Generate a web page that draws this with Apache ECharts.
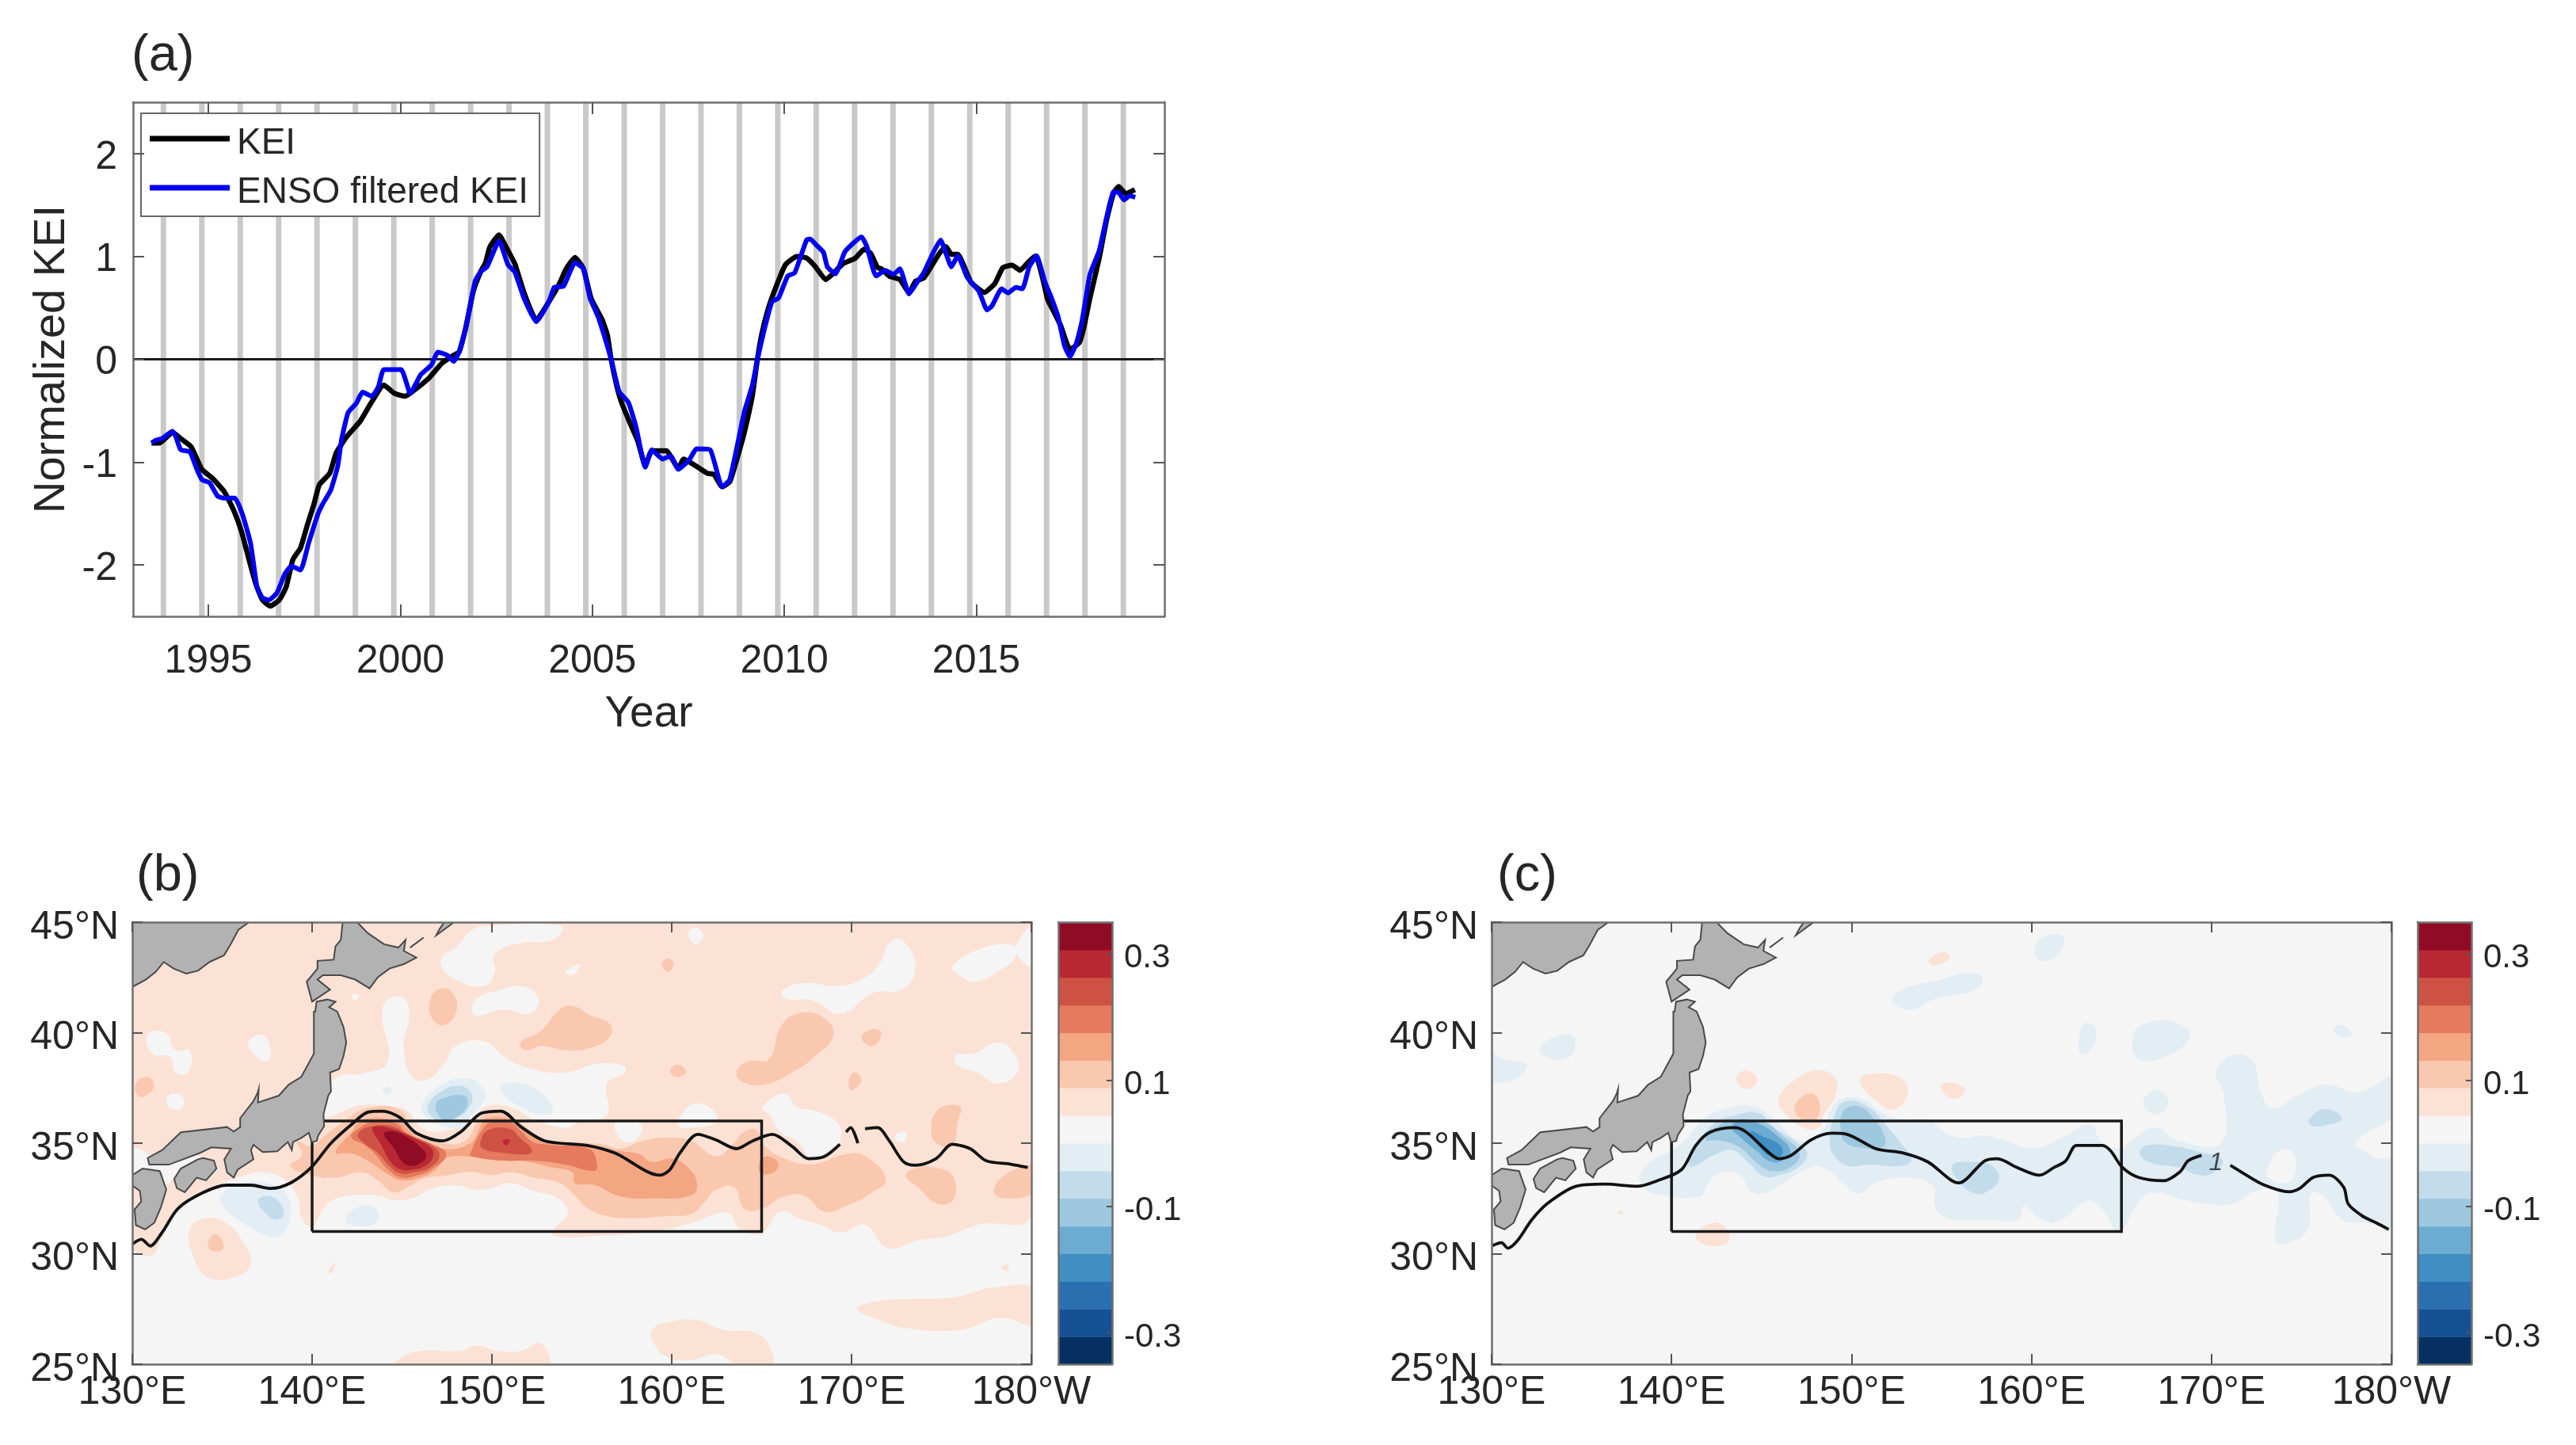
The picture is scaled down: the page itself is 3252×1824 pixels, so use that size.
<!DOCTYPE html>
<html><head><meta charset="utf-8">
<style>html,body{margin:0;padding:0;background:#fff}#c{width:3252px;height:1824px}</style>
<script src="https://cdn.jsdelivr.net/npm/echarts@6/dist/echarts.min.js"></script>
</head><body><div id="c"></div>
<script>
// ---------- panel (a) ----------
const keiYears=[1993.52,1993.73,1994.07,1994.28,1994.55,1994.83,1995.1,1995.41,1995.65,1995.86,1996.06,1996.24,1996.41,1996.61,1996.85,1997.03,1997.2,1997.4,1997.58,1997.75,1997.89,1998.16,1998.33,1998.61,1998.95,1999.23,1999.57,1999.84,2000.12,2000.33,2000.74,2001.08,2001.39,2001.53,2001.7,2001.9,2002.09,2002.22,2002.33,2002.57,2002.77,2002.98,2003.22,2003.54,2003.87,2004.15,2004.32,2004.55,2004.77,2004.97,2005.25,2005.39,2005.49,2005.63,2005.76,2005.97,2006.18,2006.38,2006.55,2006.76,2006.93,2007.24,2007.38,2007.79,2008.0,2008.17,2008.38,2008.58,2008.75,2008.96,2009.17,2009.3,2009.41,2009.58,2009.78,2010.03,2010.33,2010.58,2010.81,2011.08,2011.29,2011.53,2011.84,2012.08,2012.25,2012.43,2012.53,2012.73,2013.01,2013.25,2013.42,2013.63,2014.04,2014.21,2014.35,2014.52,2014.86,2015.21,2015.48,2015.69,2015.93,2016.14,2016.38,2016.55,2016.72,2016.86,2017.03,2017.2,2017.44,2017.68,2017.79,2017.96,2018.2,2018.4,2018.58,2018.71,2018.89,2019.13];
const keiValues=[-0.815,-0.815,-0.71,-0.77,-0.85,-1.07,-1.155,-1.285,-1.46,-1.67,-1.95,-2.19,-2.34,-2.40,-2.34,-2.21,-1.95,-1.835,-1.61,-1.41,-1.22,-1.11,-0.91,-0.75,-0.605,-0.43,-0.25,-0.33,-0.36,-0.31,-0.185,-0.04,0.04,0.07,0.30,0.66,0.85,0.94,1.09,1.21,1.08,0.93,0.65,0.38,0.56,0.74,0.88,0.99,0.88,0.59,0.39,0.24,0,-0.25,-0.42,-0.61,-0.79,-1.03,-0.89,-0.89,-0.89,-1.06,-0.97,-1.06,-1.11,-1.12,-1.24,-1.19,-0.99,-0.71,-0.35,0,0.24,0.49,0.70,0.92,1.0,0.985,0.90,0.775,0.84,0.93,0.98,1.07,1.03,0.89,0.88,0.81,0.775,0.65,0.76,0.79,1.03,1.095,1.02,1.02,0.75,0.65,0.735,0.89,0.915,0.865,0.955,1.005,0.80,0.58,0.455,0.325,0.095,0.16,0.29,0.595,0.98,1.365,1.62,1.68,1.61,1.65];
const ensoYears=[1993.52,1993.62,1993.8,1994.07,1994.17,1994.28,1994.52,1994.69,1994.83,1995.03,1995.24,1995.41,1995.69,1995.89,1996.1,1996.27,1996.41,1996.58,1996.79,1996.99,1997.16,1997.4,1997.61,1997.85,1997.99,1998.19,1998.37,1998.47,1998.64,1998.85,1999.02,1999.26,1999.43,1999.57,2000.02,2000.26,2000.53,2000.81,2000.98,2001.22,2001.39,2001.53,2001.7,2001.95,2002.09,2002.26,2002.57,2002.81,2002.98,2003.22,2003.54,2003.87,2004.01,2004.25,2004.55,2004.77,2004.94,2005.15,2005.49,2005.7,2005.94,2006.14,2006.38,2006.55,2006.83,2007.04,2007.24,2007.52,2007.72,2008.07,2008.38,2008.58,2008.96,2009.17,2009.3,2009.48,2009.68,2009.85,2010.09,2010.27,2010.58,2010.68,2010.81,2011.02,2011.12,2011.33,2011.57,2011.74,2012.01,2012.15,2012.39,2012.63,2012.84,2013.01,2013.25,2013.46,2013.63,2013.87,2014.07,2014.21,2014.35,2014.52,2014.76,2015.07,2015.28,2015.41,2015.66,2015.83,2016.03,2016.2,2016.38,2016.57,2016.79,2016.96,2017.13,2017.3,2017.44,2017.61,2017.75,2017.96,2018.2,2018.4,2018.58,2018.71,2018.85,2018.99,2019.14];
const ensoValues=[-0.815,-0.79,-0.77,-0.70,-0.77,-0.88,-0.90,-1.06,-1.17,-1.20,-1.33,-1.35,-1.35,-1.51,-1.79,-2.22,-2.32,-2.34,-2.27,-2.09,-2.01,-2.05,-1.79,-1.51,-1.40,-1.27,-1.04,-0.78,-0.52,-0.43,-0.32,-0.36,-0.265,-0.10,-0.10,-0.33,-0.15,-0.055,0.07,0.04,-0.02,0.07,0.30,0.76,0.85,0.90,1.15,0.915,0.85,0.595,0.365,0.56,0.70,0.71,0.94,0.88,0.595,0.415,0,-0.315,-0.42,-0.66,-1.05,-0.88,-0.97,-0.94,-1.07,-0.98,-0.87,-0.88,-1.24,-1.17,-0.51,-0.25,0,0.29,0.56,0.595,0.81,0.84,1.16,1.17,1.12,1.04,0.90,0.83,1.04,1.11,1.19,1.095,0.81,0.865,0.825,0.88,0.635,0.75,0.84,1.03,1.16,1.03,0.90,1.005,0.80,0.66,0.48,0.52,0.685,0.645,0.70,0.685,0.90,1.005,0.75,0.595,0.415,0.13,0.025,0.16,0.365,0.825,1.055,1.39,1.63,1.62,1.55,1.59,1.575];
const winterBars=[1993.83,1994.83,1995.83,1996.83,1997.83,1998.83,1999.83,2000.83,2001.83,2002.83,2003.83,2004.83,2005.83,2006.83,2007.83,2008.83,2009.83,2010.83,2011.83,2012.83,2013.83,2014.83,2015.83,2016.83,2017.83,2018.83];
const yearTicks=[1995,2000,2005,2010,2015];
const keiTicks=[-2,-1,0,1,2];

// ---------- colour bar ----------
const cbLower=[-0.35,-0.30625,-0.2625,-0.21875,-0.175,-0.13125,-0.0875,-0.04375,0,0.04375,0.0875,0.13125,0.175,0.21875,0.2625,0.30625];
const cbColors=['#053061','#165095','#2a6fb0','#3f8fc4','#6cabd2','#9dc8e0','#c3dcec','#e2edf4','#f6f5f5','#fbe2d5','#fac8af','#f4a582','#e57a5e','#ce5244','#b92732','#900c24'];
const cbTicks=[-0.3,-0.1,0.1,0.3];
const cbStep=0.04375;

// ---------- land, lon/lat ----------
const landAsia=[[130,45],[136.5,45],[135.9,44.65],[135.45,43.97],[135.1,43.5],[134.3,43.2],[133.65,42.8],[133,42.67],[132.3,42.9],[131.75,43.2],[131.3,42.75],[130.75,42.4],[130,42.07]];
const landHokkaido=[[141.7,45],[142.5,45],[143.1,44.5],[144,44],[144.8,43.85],[145.2,44.2],[145.1,43.7],[145.8,43.4],[145.1,43.1],[144.3,42.9],[143.65,42.5],[143.2,42],[142.4,42.4],[141.6,42.6],[140.6,42.6],[140.3,42.4],[141,41.95],[140,41.4],[139.7,42.3],[140.3,42.9],[140.3,43.25],[141.2,43.3],[141.3,43.9],[141.6,44.2]];
const landSakhalin=[[146.9,44.4],[147.9,45],[147.35,45],[147.1,44.7]];
const landKuril=[[145.45,43.85],[146.2,44.3]];
const landHonshu=[[140.17,40.95],[140.25,41.4],[140.85,41.5],[141.3,41.4],[140.95,41.15],[141.4,40.95],[141.75,40.25],[141.9,39.55],[141.75,38.95],[141.5,38.35],[141,38.2],[141.05,37.35],[140.9,37.15],[140.63,36.3],[140.67,35.77],[140.34,35.35],[140.26,35.1],[139.97,35.05],[139.82,35.47],[139.38,35.23],[138.94,35.05],[138.87,34.69],[138.65,35.05],[138.06,34.63],[137.25,34.6],[136.74,34.93],[136.6,34.69],[136.74,34.27],[135.86,33.8],[135.64,33.44],[135.27,33.68],[135.12,34.27],[135.49,34.75],[134.39,34.81],[133.8,34.57],[132.04,34.03],[130.94,34.03],[130.86,34.33],[131.67,34.69],[132.7,35.49],[135.27,35.73],[135.64,35.53],[136,35.73],[136,36.13],[136.74,36.9],[136.96,37.26],[137.03,37.45],[136.99,36.84],[138.15,37.15],[138.7,37.65],[139.4,38],[140.1,39.05],[140.1,40.95]];
const landShikoku=[[132.33,33.38],[132.7,33.85],[133.65,34.27],[133.95,34.33],[134.54,34.21],[134.68,33.85],[134.1,33.32],[133.58,33.44],[132.92,32.78],[132.48,32.96]];
const landKyushu=[[129.9,33.5],[130.57,33.85],[131.53,33.74],[131.89,32.9],[131.6,32.12],[131.23,31.4],[130.72,31.1],[130.2,31.29],[130.13,32],[130.5,32.36],[130.42,32.84],[129.9,33.14]];

// ---------- KE box and Kuroshio paths, lon/lat ----------
const boxLon=[140,165,165,140,140];
const boxLat=[31,31,36,36,31];
const pathB=[[130,30.43],[130.5,30.65],[131,30.35],[131.65,30.95],[132.55,32.05],[133.9,32.75],[135.25,33.1],[136.6,33.1],[137.7,32.95],[138.8,33.2],[139.95,33.9],[141.05,35],[142.2,35.85],[143.1,36.4],[143.9,36.45],[144.9,36.15],[145.8,35.45],[147.25,35.1],[148.25,35.5],[149.4,36.35],[150.5,36.45],[151.6,35.75],[152.95,35.1],[155.3,34.9],[156.85,34.55],[159.35,33.55],[159.9,33.8],[160.45,34.55],[161.45,35.4],[162.45,35.15],[163.6,34.75],[164.5,35.1],[165.6,35.4],[166.7,34.85],[167.6,34.3],[168.5,34.4],[169.35,34.95],null,[169.7,35.5],[169.95,35.7],[170.35,35],null,[170.75,35.65],[171.45,35.7],[172.1,35.1],[172.9,34.15],[173.55,34],[174.7,34.3],[175.6,34.95],[176.6,34.75],[177.5,34.2],[178.85,34.05],[179.8,33.9]];
const pathC=[[130,30.35],[130.55,30.5],[130.9,30.25],[131.45,30.6],[132.25,31.55],[133.15,32.3],[134.7,33.05],[136.3,33.15],[138.1,33.05],[139.2,33.3],[140.55,33.8],[141.35,34.9],[142.15,35.5],[143.5,35.7],[144.15,35.5],[145.3,34.65],[145.95,34.3],[146.65,34.45],[147.75,35.15],[148.9,35.45],[149.75,35.4],[151.35,34.75],[152.9,34.55],[154.25,34.15],[155.95,33.2],[157.4,34.2],[158.1,34.3],[159.2,33.9],[160.45,33.55],[161.25,33.9],[161.9,34.2],[162.5,34.9],[163.95,34.9],[164.4,34.65],[165.05,33.9],[165.95,33.45],[167.35,33.3],[168.25,33.7],[168.7,34.2],[169.45,34.45],null,[171.05,34],[171.85,33.6],[172.95,33.1],[174.3,32.8],[174.9,32.95],[175.65,33.45],[176.55,33.55],[177.35,33],[177.6,32.25],[178.4,31.7],[179.15,31.4],[179.85,31.1]];
const contourLabel=[[170.25,34.1,'1']];

// ---------- panel (b) contours: [band value, lon/lat outline], painted in order ----------
const bPale=[[130,45],[180,45],[180,31.8],[177,31.3],[175.25,30.78],[173.7,30.6],[172,30.26],[170.76,31.3],[169.4,30.95],[168.3,31.3],[167.2,31.55],[166.05,31.9],[165,30.95],[163.8,31.12],[163.1,31.85],[161.1,31.38],[159.1,31.03],[155.5,30.78],[153.5,30.8],[153.5,31.16],[154.07,31.6],[154.2,32],[153.6,32.54],[152.3,32.84],[151,33.2],[149.95,32.96],[148.9,32.9],[148.2,33.08],[146.7,32.96],[145.55,32.5],[144.5,32.42],[143.8,32.6],[142.6,32.66],[141.3,32.48],[140.7,32.1],[140.26,31.5],[139.97,31.17],[139.4,31.64],[139.23,32.48],[138.5,33.32],[137.3,33.68],[136.3,33.56],[134.83,33.14],[134.1,32.84],[132.9,32.24],[132.2,31.76],[131.6,30.6],[131,29.9],[130,30.4]];
const bHoleCentral=[[141.4,38],[142.85,38.15],[144.2,38.7],[143.9,40.8],[144.2,41.5],[145.1,41.55],[145.4,40.8],[145.1,39.4],[145.55,38],[146.45,37.9],[147.35,38.6],[148,39.4],[149.6,39.6],[150.7,38.9],[152.05,38.4],[154.1,38.2],[155.9,38.6],[157.3,38.5],[157.4,38.2],[156.4,37.7],[156.4,36.3],[154.85,35.95],[154.07,35.7],[152.3,36.07],[151.13,36.6],[149.66,36.66],[148.8,35.95],[147.6,35.6],[146.3,35.6],[145.25,36.48],[144.5,36.66],[142.76,36.72],[141.6,36.42],[140.7,36.2],[140.6,37]];
const bHoleN1=[[147.25,43.45],[148,43.85],[148.9,44.65],[149.8,44.83],[153.85,44.83],[153.4,44.2],[151.6,44.05],[150.15,43.55],[150.15,42.7],[149.5,42.1],[148,42.4],[147.25,42.9]];
const bHoleN2=[[149.05,41.45],[150.3,41.9],[151.85,42.07],[152.6,41.45],[152.05,40.85],[150.7,41.05],[149.05,40.8]];
const bHoleN3=[[154.1,42.75],[154.9,43.1],[154.5,42.6]];
const bHoleW1=[[130.85,39.9],[131.85,40],[132.4,39.2],[133.2,39.2],[133.1,38.2],[132.4,38.2],[132.1,38.9],[131.1,39.05]];
const bHoleW2=[[136.45,39.55],[137.25,39.9],[137.7,39.2],[137.5,38.7],[136.8,39]];
const bHoleW3=[[132,37.15],[132.75,37.15],[132.75,36.55],[132,36.65]];
const bHoleW4=[[142.2,41.7],[142.6,41.7],[142.4,41.45]];
const bHoleW5=[[129.8,34.7],[131,34.4],[131,33.3],[129.8,33.2]];
const bHoleSeto1=[[131.67,33.44],[132.19,34.1],[133.65,34.45],[133.73,34.27],[132.63,33.85],[132.26,33.44],[131.9,33.14]];
const bHoleSeto2=[[131,33.9],[131.9,33.94],[131.75,33.7],[131.16,33.7]];
const bHoleE1=[[160.9,44.5],[161.35,44.75],[161.75,44.4],[161.35,44]];
const bHoleE2=[[166.15,41.9],[167.4,42.25],[169.2,42.1],[170.55,42.4],[171.55,43.1],[172.1,44.05],[172.8,44.2],[173.55,43],[172.8,41.95],[171.2,41.8],[169.4,40.85],[167.85,41.45],[166.3,41.55]];
const bHoleE3=[[175.6,43],[177.2,43.8],[179,43.95],[179.1,43.4],[178.3,42.85],[176.9,42.3],[176,42.6]];
const bHoleE4=[[180.2,44.8],[179.3,44.2],[179.2,43.55],[180.2,43]];
const bHoleE5=[[175.8,39],[176.8,39.05],[178.15,39.55],[179.05,39.05],[179.2,38.2],[178.15,37.7],[177,38.2],[175.9,38.5]];
const bHoleM1=[[156.9,35.95],[158.3,35.85],[158,35.15],[157.2,35.15]];
const bHoleM2=[[160.55,36.3],[161.35,36.8],[162.35,36.45],[162.45,35.95],[161.1,35.7],[160.35,35.8]];
const bHoleM3=[[165.05,36.65],[166.3,37.25],[166.95,36.65],[168.05,36.45],[169.2,35.95],[169.4,35.25],[168.95,34.75],[167.85,34.3],[166.95,35.1],[166.05,35.5],[165.4,36.3]];
const bHoleM4=[[172.45,35.35],[173,35.5],[173,35.1],[172.55,35.1]];
const bBlobS1=[[133.2,31.1],[134.1,31.6],[135.2,31.4],[136.1,30.6],[136.6,29.6],[135.9,29],[134.3,28.9],[133.45,29.75]];
const bBlobS2=[[144.77,25.2],[146,25.6],[148.25,25.6],[149.15,25.85],[150.3,25.6],[151.6,25.6],[152.75,25.95],[153,24.8],[144.77,24.8]];
const bBlobS3=[[158.9,26.55],[159.8,26.9],[161.35,27],[162.9,26.55],[164.7,26.4],[165.5,25.7],[165.5,24.9],[163.9,24.9],[162.5,25.45],[161.1,25.2],[159.8,25.3],[159,25.95]];
const bBlobS4=[[170.3,27.5],[171.45,27.85],[173.2,27.95],[175.45,28],[177,28.3],[177.7,28.45],[180.2,28.4],[180.2,26.8],[178.3,27.1],[176,26.55],[172.9,26.65],[171.55,27]];
const bBlobS5=[[178.3,29.4],[178.7,29.5],[178.7,29.2]];
const bBlobS6=[[140.9,29.2],[141.3,29.6],[141.1,29.1]];
const bPeachS1=[[134.2,30.45],[134.65,30.9],[135.1,30.3],[134.55,30.1]];
const bPeachN1=[[146.55,41.45],[147.15,42],[147.9,41.7],[148,40.9],[147.35,40.35],[146.7,40.6]];
const bPeachN2=[[151.6,39.55],[152.75,40.1],[153.85,41.1],[154.55,41.2],[155.45,40.8],[156.55,40.4],[156.55,39.8],[155.45,39.3],[154.1,39.2],[152.75,39.4],[151.85,39.2]];
const bPeachN3=[[130.2,37.7],[130.85,38],[131.2,37.6],[130.75,37.15],[130.3,37.15]];
const bPeachN4=[[159.45,43.1],[159.8,43.35],[160.1,43.1],[159.8,42.75]];
const bPeachN5=[[163.6,38.2],[164.25,38.7],[165.4,38.8],[166.05,40.25],[166.95,40.85],[168.3,40.75],[169,39.9],[167.85,38.85],[166.7,38.2],[165.15,37.65],[164,37.75]];
const bPeachN6=[[170.55,39.75],[171.1,40.15],[171.65,40],[171.2,39.4]];
const bPeachN7=[[169.85,37.85],[170.2,38.2],[170.55,37.85],[170,37.4]];
const bPeachN8=[[159.9,38.3],[160.35,38.55],[160.8,38.2],[160.2,38]];
const bPeachN9=[[174.6,36.3],[175.05,36.65],[176.05,36.65],[175.9,35.95],[175.6,34.9],[174.6,35.1],[174.45,35.95]];
const bPeachN10=[[173,33.55],[173.7,33.9],[174.6,33.9],[175.6,33.55],[175.7,32.5],[174.8,32.25],[173.7,33]];
const bPeachN11=[[177.9,32.85],[178.8,33.7],[180.2,33.9],[180.2,32.85],[178.6,32.5]];
const bPeachBand=[[138.8,33.97],[139.45,34.45],[139.2,35.05],[139.97,34.87],[140.7,35.35],[142.17,36.2],[142.9,36.55],[144.8,36.55],[145.55,35.7],[146.3,35.3],[147.3,35],[148.5,35.1],[149.4,36.2],[150.25,36.4],[151.3,36.07],[152.3,35.47],[153.3,35.1],[155.5,35],[156.4,34.9],[157.1,34.75],[158.4,35.1],[159.75,35.25],[161.1,35.1],[162.45,34.4],[163.35,34.9],[164,35.5],[164.7,35.6],[165.15,34.9],[166.3,34.3],[167.85,34.05],[169.65,34.5],[170.8,34.4],[171.9,33.35],[171,32.7],[169.65,32.15],[168.5,31.9],[167.4,32.6],[166.3,32.6],[164.9,32],[164,32.05],[163.5,33],[162.5,32.9],[161.8,32.3],[161.1,31.8],[159.8,31.7],[157.75,31.6],[156.4,31.7],[155.25,32.1],[154.65,32.6],[153.75,33.2],[152.3,33.44],[151.1,33.68],[149.95,33.56],[148.8,33.71],[147.6,33.56],[146.3,33.41],[145.4,33.05],[144.5,32.78],[143.64,33.32],[142.76,33.68],[141.3,33.44],[139.97,33.56]];
const bSalmonBand=[[141.3,34.57],[142.17,35.47],[142.83,36.07],[144.8,36],[145.25,35.7],[145.84,35.23],[147.16,34.75],[148.8,35],[149.4,35.83],[149.66,36.13],[151.13,36.07],[151.86,35.6],[153.2,35],[155.4,34.87],[155.85,34.85],[157.1,34.65],[158.2,34.5],[158.9,34.15],[160,34.3],[160.9,33.9],[161.4,33.2],[161.1,32.65],[158.9,32.5],[157.1,32.6],[155.75,33.1],[154.6,33.2],[154.5,33.67],[153.33,33.91],[151.6,34.2],[149.95,34.27],[148.8,34.39],[147.46,34.33],[146.87,33.8],[146,33.44],[144.96,33.32],[144.2,33.6],[143.34,34.09],[142.17,34.54]];
const bSalmonSmall=[[164.9,34.15],[165.4,34.4],[165.95,34],[165.4,33.6],[164.9,33.7]];
const bCoral1=[[142.17,35.29],[142.68,35.71],[143.42,35.97],[144.67,35.89],[145.25,35.47],[146.58,34.99],[147.46,34.51],[146.72,33.85],[145.7,33.5],[144.96,33.44],[144.23,33.8],[143.5,34.51],[142.9,34.93]];
const bCoral2=[[148.8,34.51],[149.5,35.65],[150.03,35.97],[150.98,35.95],[151.57,35.59],[152.3,35.05],[153.2,34.93],[155.4,34.73],[155.85,34.03],[155.68,33.74],[154.07,34.03],[152.3,34.21],[150.54,34.21],[148.93,34.39]];
const bBrick1=[[142.54,35.41],[143.34,35.77],[144.67,35.71],[145.4,35.23],[146.58,34.93],[147.09,34.45],[146.58,33.91],[145.7,33.68],[144.96,33.62],[144.37,33.91],[143.64,34.57],[142.9,35]];
const bBrick2=[[149.36,35.05],[149.8,35.59],[150.98,35.65],[151.57,35.23],[152.23,34.69],[152,34.51],[150.54,34.57],[149.5,34.75]];
const bRed1=[[143.34,35.65],[143.64,35.77],[144.67,35.59],[145.7,35.23],[146.58,34.81],[146.72,34.39],[146.28,33.97],[145.55,33.8],[144.96,33.8],[144.37,34.15],[143.79,34.99]];
const bRed2=[[150.6,35.11],[150.83,35.17],[150.98,35.11],[150.8,34.9]];
const bCrimson=[[144,35.41],[144.52,35.53],[145.25,35.29],[146.13,34.75],[146.35,34.39],[145.99,34.09],[145.55,33.97],[145.03,34.15],[144.52,34.81]];
const bBlue1a=[[146.1,36.7],[147.1,37.6],[148.5,37.95],[149.4,37.6],[149.6,37],[148.8,36.2],[148.25,35.7],[147.35,35.8],[146.45,36.1]];
const bBlue1b=[[146.45,36.7],[147.1,37.3],[148.15,37.6],[148.85,37.25],[148.75,36.65],[147.95,36.1],[147.1,36],[146.55,36.3]];
const bBlue1c=[[146.9,36.8],[147.35,37.05],[148.45,37.15],[148.65,36.8],[148.25,36.3],[147.45,36.05],[147,36.3]];
const bBlue2=[[143.9,37.4],[144.2,37.55],[144.45,37.35],[144.1,37.2]];
const bBlue3=[[150.5,37.6],[151.6,37.7],[152.75,37.25],[153.4,36.45],[152.75,36.3],[151.6,36.65],[150.7,37.15]];
const bBlue4a=[[134.9,32.6],[136.15,33.2],[137.45,33.2],[138.5,32.75],[138.8,31.65],[138.15,30.8],[137.25,30.9],[136.15,31.4],[135.2,32]];
const bBlue4b=[[137,32.4],[137.6,32.6],[138.25,32.25],[138.4,31.7],[137.9,31.55],[137.45,31.8]];
const bBlue5=[[141.85,31.55],[142.4,32.05],[143.4,32.15],[143.7,31.7],[143.3,31.3],[142.2,31.3]];
const panelB=[[0.066,bPale],
 [0.022,bHoleCentral],[0.022,bHoleN1],[0.022,bHoleN2],[0.022,bHoleN3],[0.022,bHoleW1],[0.022,bHoleW2],[0.022,bHoleW3],[0.022,bHoleW4],[0.022,bHoleW5],[0.022,bHoleSeto1],[0.022,bHoleSeto2],[0.022,bHoleE1],[0.022,bHoleE2],[0.022,bHoleE3],[0.022,bHoleE4],[0.022,bHoleE5],[0.022,bHoleM1],[0.022,bHoleM2],[0.022,bHoleM3],[0.022,bHoleM4],
 [0.066,bBlobS1],[0.066,bBlobS2],[0.066,bBlobS3],[0.066,bBlobS4],[0.066,bBlobS5],[0.066,bBlobS6],
 [0.109,bPeachS1],[0.109,bPeachN1],[0.109,bPeachN2],[0.109,bPeachN3],[0.109,bPeachN4],[0.109,bPeachN5],[0.109,bPeachN6],[0.109,bPeachN7],[0.109,bPeachN8],[0.109,bPeachN9],[0.109,bPeachN10],[0.109,bPeachN11],[0.109,bPeachBand],
 [0.153,bSalmonBand],[0.153,bSalmonSmall],[0.197,bCoral1],[0.197,bCoral2],[0.241,bBrick1],[0.241,bBrick2],[0.284,bRed1],[0.284,bRed2],[0.328,bCrimson],
 [-0.022,bBlue1a],[-0.066,bBlue1b],[-0.11,bBlue1c],[-0.022,bBlue2],[-0.022,bBlue3],[-0.022,bBlue4a],[-0.066,bBlue4b],[-0.022,bBlue5]];

// ---------- panel (c) contours ----------
const cPaleMain=[[138.23,33.56],[138.82,34.15],[140.06,34.69],[140.87,35.23],[141.75,36.07],[142.92,36.54],[144.53,36.66],[145.71,36.07],[147.17,35.11],[148.5,35.7],[148.79,36.42],[149.52,37.02],[150.69,36.96],[151.87,36.3],[153.04,36.07],[154.21,36.07],[155.24,35.47],[156.27,35.23],[157.2,35.35],[158.55,35.1],[160.1,34.75],[161.7,35.25],[163.3,35.85],[163.85,35.1],[164.85,34.75],[165.5,35.1],[166.9,35.7],[168.2,35.1],[170.5,35],[170.7,37.15],[170.25,38.2],[171.25,39],[172.3,38.7],[172.75,37.3],[173.4,36.55],[174.75,37.15],[176.35,37.65],[178.15,37.3],[180.2,37.85],[180.2,31.4],[178.4,31.4],[177.25,31.55],[176.35,32.5],[175.55,32.75],[175.35,31.1],[174.1,30.45],[173.55,30.6],[173.65,32.75],[172.5,32.85],[171.15,32.25],[169.35,32.3],[168.2,32.5],[166.65,32.75],[165.95,32.3],[164.85,31.05],[163.95,32],[163.15,32.4],[161.45,31.45],[160.55,31.55],[159.55,32.15],[159.3,31.55],[157.2,31.55],[156.27,31.5],[155.24,31.64],[154.65,32.12],[154.5,33.08],[153.04,33.44],[151.28,33.2],[150.4,32.72],[149.67,33.08],[148.64,33.8],[147.76,33.91],[146,33.08],[145.12,32.72],[144.39,32.84],[143.8,33.56],[142.77,33.68],[142.04,33.2],[141.6,32.6],[138.96,32.72],[138.23,33.26]];
const cHole1=[[178,35],[179.6,35.9],[180.2,36],[180.2,34.6],[179.2,34.3],[178.6,34.6]];
const cHole2=[[173.2,34],[173.9,34.7],[174.6,34.5],[174.4,33.3],[173.2,33.4]];
const cPeak1a=[[140.94,34.03],[141.46,34.99],[142.48,35.95],[143.51,36.25],[144.83,36.36],[145.71,35.71],[147.03,34.99],[147.54,34.51],[147.03,33.91],[146,33.56],[145.12,33.5],[144.24,34.15],[143.36,34.69],[142.33,34.45],[141.31,33.97]];
const cPeak1b=[[141.9,35.17],[142.92,35.95],[143.8,36.07],[145.12,35.95],[146.29,35.23],[147.1,34.57],[146.73,33.97],[145.56,33.74],[144.68,34.15],[143.8,34.81],[142.78,35.11]];
const cPeak1c=[[143.36,35.71],[143.8,36.07],[144.83,35.89],[145.85,35.35],[146.59,34.69],[146.29,34.27],[145.56,34.15],[144.68,34.69],[143.8,35.29]];
const cPeak1d=[[144.39,35.53],[145.12,35.29],[146,34.93],[146.15,34.51],[145.56,34.39],[144.97,34.75]];
const cPeak2a=[[148.79,34.99],[149.08,36.3],[149.67,36.9],[150.99,36.6],[152.01,35.71],[152.75,34.99],[153.33,34.27],[152.75,33.97],[150.99,34.03],[149.81,33.97],[149.08,34.39]];
const cPeak2b=[[149.45,35.35],[149.52,36.42],[150.4,36.66],[151.28,36.07],[151.87,35.23],[151.72,34.81],[150.4,34.81],[149.67,35.03]];
const cBlobC=[[155.6,34],[156.75,34.15],[157.75,34],[158.2,33.4],[157.5,32.8],[156.75,32.75],[155.85,33.4]];
const cBlobD=[[166,34.55],[166.45,34.9],[168,34.85],[169.35,34.6],[170.6,34.25],[170.25,33.75],[169.35,33.55],[168.2,33.9],[166.65,34.1]];
const cBlobE=[[175.45,36.1],[176.35,36.55],[177.25,36.1],[176.25,35.8],[175.55,35.8]];
const cPale1=[[152.25,41.55],[152.95,42],[154.7,42.35],[156.5,42.7],[157.3,42.45],[156.75,41.9],[154.7,41.55],[153.4,41.05],[152.5,41.2]];
const cPale2=[[132.7,39.3],[133.35,39.75],[134.5,39.85],[134.6,39.2],[133.95,38.8],[132.9,38.95]];
const cPale3=[[129.8,39.2],[130.65,38.8],[131.9,38.6],[131.8,38.2],[130.8,37.75],[129.8,38]];
const cPale4=[[160.2,43.9],[160.9,44.4],[161.8,44.3],[161.35,43.45],[160.45,43.3]];
const cPale5=[[162.7,40.05],[163.05,40.45],[163.6,40.1],[163.25,39.2],[162.7,39.05]];
const cPale6=[[165.65,39.9],[166.45,40.45],[168,40.45],[168.8,39.9],[167.8,39.05],[166,38.8]];
const cPale7=[[166.2,36.8],[166.9,37.4],[167.6,36.9],[167,36.3]];
const cPale8=[[176.8,40.1],[177.25,40.35],[177.8,39.9],[177.25,39.8]];
const cWarm1=[[143.6,37.95],[144.15,38.3],[144.8,37.85],[144.15,37.45]];
const cWarm2=[[145.95,37.05],[147.1,38],[148.2,38.3],[149.1,37.95],[149.1,37.15],[148.4,36.2],[148.2,35.7],[147.3,35.7],[146.2,36.45]];
const cWarm2b=[[146.85,36.65],[147.65,37.25],[148.2,36.9],[148,36.05],[147.2,36.1]];
const cWarm3=[[150.45,37.85],[151.35,38.15],[152.7,37.95],[153.15,37.35],[152.45,36.55],[151.55,36.8]];
const cWarm4=[[154.95,37.6],[155.85,37.7],[156.3,37.35],[155.6,37]];
const cWarm5=[[154.3,43.3],[155.2,43.65],[155.45,43.35],[154.55,43.05]];
const cWarm6=[[141.35,30.85],[142.35,31.4],[143.15,31],[143.05,30.45],[141.7,30.45]];
const cWarm7=[[137,31.9],[137.3,31.9],[137.2,31.75]];
const panelC=[[-0.022,cPaleMain],[0.022,cHole1],[0.022,cHole2],
 [-0.066,cPeak1a],[-0.11,cPeak1b],[-0.153,cPeak1c],[-0.197,cPeak1d],[-0.066,cPeak2a],[-0.11,cPeak2b],[-0.066,cBlobC],[-0.066,cBlobD],[-0.066,cBlobE],
 [-0.022,cPale1],[-0.022,cPale2],[-0.022,cPale3],[-0.022,cPale4],[-0.022,cPale5],[-0.022,cPale6],[-0.022,cPale7],[-0.022,cPale8],
 [0.066,cWarm1],[0.066,cWarm2],[0.109,cWarm2b],[0.066,cWarm3],[0.066,cWarm4],[0.066,cWarm5],[0.066,cWarm6],[0.066,cWarm7]];
const landShapes=[landAsia,landHokkaido,landSakhalin,landKuril,landHonshu,landShikoku,landKyushu];

// ---------- drawing ----------
const FONT='"Liberation Sans"';
const TXT='#262626', FRAME='#6f6f6f';
const zip=(xs,ys)=>xs.map((x,i)=>[x,ys[i]]);
const bandColor=v=>{let k=0;cbLower.forEach((l,i)=>{if(v>=l)k=i;});return cbColors[k];};
const lonLabel=v=>v===180?'180°W':v+'°E';
const latLabel=v=>'{t|'+v+'°N}';
const dropped=(size,top)=>({t:{fontFamily:FONT,fontSize:size,color:TXT,padding:[top,0,0,0]}});

const grids=[
 {left:168,top:129,width:1302,height:649},
 {left:167,top:1164,width:1135,height:558,show:true,backgroundColor:cbColors[8],borderWidth:0},
 {left:1336,top:1164,width:68,height:558},
 {left:1883,top:1164,width:1136,height:558,show:true,backgroundColor:cbColors[8],borderWidth:0},
 {left:3052,top:1164,width:68,height:558}
];
const line={show:true,onZero:false,lineStyle:{color:FRAME,width:2.5}};
const tick=(len,extra)=>Object.assign({show:true,inside:true,length:len,lineStyle:{color:'#555',width:2}},extra||{});
const xAxes=[],yAxes=[];
function addCartesian(g,xc,yc){
 xAxes.push(Object.assign({type:'value',gridIndex:g,position:'bottom',z:10,splitLine:{show:false},axisLine:line},xc.main));
 xAxes.push(Object.assign({type:'value',gridIndex:g,position:'top',z:10,splitLine:{show:false},axisLine:line,axisLabel:{show:false}},xc.mirror));
 yAxes.push(Object.assign({type:'value',gridIndex:g,position:'left',z:10,splitLine:{show:false},axisLine:line},yc.main));
 yAxes.push(Object.assign({type:'value',gridIndex:g,position:'right',z:10,splitLine:{show:false},axisLine:line},yc.mirror));
}
const XR={min:1993.04,max:2019.9}, YR={min:-2.5,max:2.5};
addCartesian(0,
 {main:Object.assign({},XR,{name:'Year',nameLocation:'middle',nameGap:96,nameTextStyle:{fontFamily:FONT,fontSize:55,color:TXT},
   axisTick:tick(15,{customValues:yearTicks}),axisLabel:{customValues:yearTicks,formatter:v=>String(v),margin:32,fontFamily:FONT,fontSize:50,color:TXT}}),
  mirror:Object.assign({},XR,{axisTick:tick(15,{customValues:yearTicks})})},
 {main:Object.assign({},YR,{name:'Normalized KEI',nameLocation:'middle',nameGap:74,nameTextStyle:{fontFamily:FONT,fontSize:56,color:TXT},
   axisTick:tick(14,{customValues:keiTicks}),axisLabel:{customValues:keiTicks,formatter:v=>'{t|'+v+'}',rich:dropped(50,10),margin:20,fontFamily:FONT,fontSize:50,color:TXT}}),
  mirror:Object.assign({},YR,{axisTick:tick(14,{customValues:keiTicks}),axisLabel:{show:false}})});
function mapAxes(g){
 const X={min:130,max:180,interval:10},Y={min:25,max:45,interval:5};
 addCartesian(g,
  {main:Object.assign({},X,{axisTick:tick(13),axisLabel:{formatter:lonLabel,margin:11,fontFamily:FONT,fontSize:50,color:TXT,showMinLabel:true,showMaxLabel:true}}),
   mirror:Object.assign({},X,{axisTick:tick(13)})},
  {main:Object.assign({},Y,{axisTick:tick(13),axisLabel:{formatter:latLabel,rich:dropped(50,14),margin:17,fontFamily:FONT,fontSize:50,color:TXT,showMinLabel:true,showMaxLabel:true}}),
   mirror:Object.assign({},Y,{axisTick:tick(13),axisLabel:{show:false}})});
}
function barAxes(g){
 const X={min:0,max:1,interval:1},Y={min:-0.35,max:0.35};
 const none={show:false};
 addCartesian(g,
  {main:Object.assign({},X,{axisTick:none,axisLabel:none}),mirror:Object.assign({},X,{axisTick:none})},
  {main:Object.assign({},Y,{axisTick:none,axisLabel:none}),
   mirror:Object.assign({},Y,{axisTick:tick(7,{customValues:cbTicks}),axisLabel:{customValues:cbTicks,formatter:v=>'{t|'+v+'}',rich:dropped(42,12),margin:15,fontFamily:FONT,fontSize:42,color:TXT}})});
}
mapAxes(1);barAxes(2);mapAxes(3);barAxes(4);

function contourSeries(g,layers){
 return {type:'custom',xAxisIndex:2*g,yAxisIndex:2*g,clip:true,silent:true,z:1,animation:false,
  data:layers.map((_,i)=>[i]),
  renderItem:(p,api)=>{const [lvl,pts]=layers[p.dataIndex];
   return {type:'polygon',shape:{points:pts.map(q=>api.coord(q)),smooth:0.45},style:{fill:bandColor(lvl)}};}};
}
function landSeries(g){
 return {type:'custom',xAxisIndex:2*g,yAxisIndex:2*g,clip:true,silent:true,z:5,animation:false,
  data:landShapes.map((_,i)=>[i]),
  renderItem:(p,api)=>({type:'polygon',shape:{points:landShapes[p.dataIndex].map(q=>api.coord(q))},
    style:{fill:'#b2b2b2',stroke:'#4a4a4a',lineWidth:2}})};
}
function boxSeries(g){
 return {type:'line',xAxisIndex:2*g,yAxisIndex:2*g,z:3,symbol:'none',silent:true,animation:false,
  data:zip(boxLon,boxLat),lineStyle:{color:'#1a1a1a',width:3.5,join:'miter'}};
}
function pathSeries(g,path){
 return {type:'line',xAxisIndex:2*g,yAxisIndex:2*g,z:4,symbol:'none',silent:true,animation:false,smooth:0.3,connectNulls:false,
  data:path.map(p=>p===null?[null,null]:p),lineStyle:{color:'#111',width:3.8}};
}
function barSeries(g){
 return {type:'custom',xAxisIndex:2*g,yAxisIndex:2*g,silent:true,z:1,animation:false,clip:true,
  data:cbLower.map((l,i)=>[i,l]),
  renderItem:(p,api)=>{const l=cbLower[p.dataIndex];const a=api.coord([0,l+cbStep]),b=api.coord([1,l]);
   return {type:'rect',shape:{x:a[0],y:a[1],width:b[0]-a[0],height:b[1]-a[1]+0.6},style:{fill:cbColors[p.dataIndex]}};}};
}

const series=[
 {type:'custom',xAxisIndex:0,yAxisIndex:0,silent:true,z:1,animation:false,clip:true,
  data:winterBars.map(v=>[v]),
  renderItem:(p,api)=>{const a=api.coord([winterBars[p.dataIndex],YR.max]),b=api.coord([winterBars[p.dataIndex],YR.min]);
   return {type:'line',shape:{x1:a[0],y1:a[1],x2:b[0],y2:b[1]},style:{stroke:'#c9c9c9',lineWidth:7}};}},
 {type:'line',xAxisIndex:0,yAxisIndex:0,z:2,symbol:'none',silent:true,animation:false,
  data:[[XR.min,0],[XR.max,0]],lineStyle:{color:'#1a1a1a',width:3}},
 {name:'KEI',type:'line',xAxisIndex:0,yAxisIndex:0,z:3,symbol:'none',animation:false,smooth:0.15,
  data:zip(keiYears,keiValues),itemStyle:{color:'#000'},lineStyle:{color:'#000',width:6.5,join:'round'}},
 {name:'ENSO filtered KEI',type:'line',xAxisIndex:0,yAxisIndex:0,z:3,symbol:'none',animation:false,smooth:0.15,
  data:zip(ensoYears,ensoValues),itemStyle:{color:'#0000f0'},lineStyle:{color:'#0000f0',width:6,join:'round'}},
 contourSeries(1,panelB),boxSeries(1),pathSeries(1,pathB),landSeries(1),barSeries(2),
 contourSeries(3,panelC),boxSeries(3),pathSeries(3,pathC),landSeries(3),barSeries(4),
 {type:'scatter',xAxisIndex:6,yAxisIndex:6,z:4,silent:true,animation:false,symbol:'circle',symbolSize:1,itemStyle:{color:'transparent'},
  data:contourLabel.map(d=>[d[0],d[1]]),
  label:{show:true,position:'inside',formatter:()=>contourLabel[0][2],fontFamily:FONT,fontStyle:'italic',fontSize:32,color:'#222'}}
];
const panelTitle=(t,l,y)=>({text:t,left:l,top:y,padding:0,textStyle:{fontFamily:FONT,fontWeight:'normal',fontSize:65,color:TXT}});
const chart=echarts.init(document.getElementById('c'),null,{renderer:'canvas',width:3252,height:1824});
chart.setOption({
 animation:false,backgroundColor:'#fff',
 title:[panelTitle('(a)',166,39),panelTitle('(b)',172,1074),panelTitle('(c)',1890,1074)],
 grid:grids,xAxis:xAxes,yAxis:yAxes,series,
 legend:{left:178,top:143,orient:'vertical',data:['KEI','ENSO filtered KEI'],icon:'rect',formatter:'{t|{name}}',
  backgroundColor:'#fff',borderColor:'#666',borderWidth:2,padding:[7,14,7,11],itemWidth:101,itemHeight:7,itemGap:8,
  align:'left',textStyle:{fontFamily:FONT,fontSize:46,color:TXT,rich:{t:{fontFamily:FONT,fontSize:46,color:TXT,height:38,lineHeight:38,padding:[12,0,0,4]}}}}
});
</script></body></html>
